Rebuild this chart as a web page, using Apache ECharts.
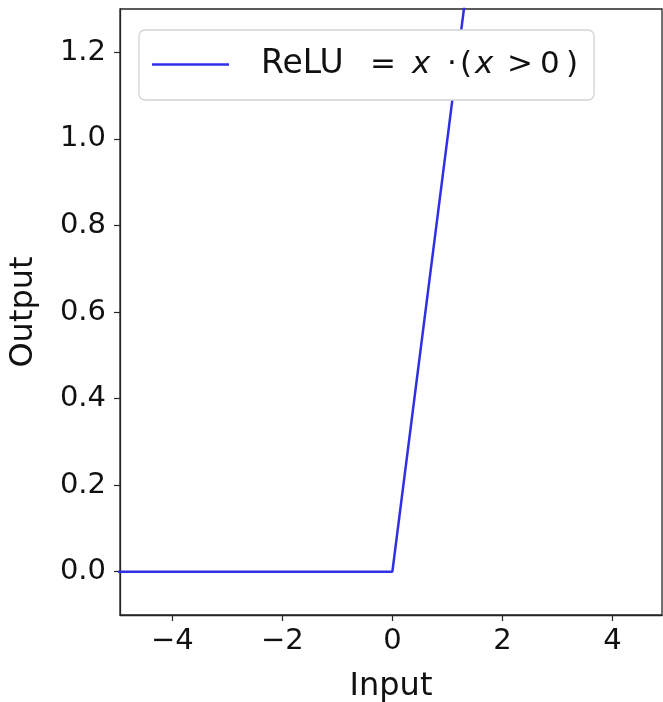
<!DOCTYPE html>
<html>
<head>
<meta charset="utf-8">
<script src="https://cdn.jsdelivr.net/npm/echarts@6/dist/echarts.min.js"></script>
<style>
  html, body { margin: 0; padding: 0; background: #fff; }
  #chart { width: 663px; height: 702px; }
</style>
</head>
<body>
<div id="chart"></div>
<script>
// ReLU sampled at the kink and ends
const inputX = [-5, 0, 5];
const outputY = [0, 0, 5];
const xTicks = [-4, -2, 0, 2, 4];
const yTicks = [0, 0.2, 0.4, 0.6, 0.8, 1.0, 1.2];

const lineColor = '#2f2fe6';
const font = 'DejaVu Sans';
const ink = '#111';

// legend glyph runs, mathtext-like spacing
const legendRich = {
    r: { width: 109, fontSize: 33 }, eq: { width: 42 }, x1: { width: 35, fontStyle: 'italic' },
    dot: { width: 13 }, lp: { width: 15 }, x2: { width: 32, fontStyle: 'italic' },
    gt: { width: 33 }, zero: { width: 26 }, rp: { width: 10 }
};
Object.values(legendRich).forEach(s => Object.assign(s, Object.assign({ fontFamily: font, fontSize: 31, color: ink }, s)));

const chart = echarts.init(document.getElementById('chart'));

const option = {
    animation: false,
    grid: {
        left: 120, right: 1, top: 9, bottom: 87,
        outerBoundsMode: 'none',
        containLabel: false,
        show: true,
        borderColor: '#262626',
        borderWidth: 1.3,
        backgroundColor: '#fff'
    },
    legend: {
        left: 139, top: 30,
        data: ['ReLU'],
        icon: 'rect',
        itemWidth: 77,
        itemHeight: 2.5,
        padding: [18, 16, 19, 13],
        backgroundColor: '#fff',
        borderColor: '#d4d4d4',
        borderWidth: 1.3,
        borderRadius: 6,
        formatter: () => '{r|ReLU}{eq|=}{x1|x}{dot|·}{lp|(}{x2|x}{gt|>}{zero|0}{rp|)}',
        textStyle: {
            padding: [0, 0, 0, 27],
            rich: legendRich
        }
    },
    xAxis: {
        type: 'value',
        min: -4.95,
        max: 4.9,
        name: 'Input',
        nameLocation: 'middle',
        nameGap: 56,
        nameTextStyle: { fontFamily: font, fontSize: 32, color: ink },
        axisLine: { show: true, onZero: false, lineStyle: { color: '#262626', width: 1.3 } },
        axisTick: { show: true, length: 6, customValues: xTicks, lineStyle: { color: '#262626', width: 1.2 } },
        axisLabel: {
            customValues: xTicks,
            margin: 12,
            fontFamily: font, fontSize: 29, color: ink,
            formatter: v => v < 0 ? '\u2212' + Math.abs(v) : String(v)
        },
        splitLine: { show: false }
    },
    yAxis: {
        type: 'value',
        min: -0.1,
        max: 1.3,
        name: 'Output',
        nameLocation: 'middle',
        nameGap: 80,
        nameRotate: 90,
        nameTextStyle: { fontFamily: font, fontSize: 32, color: ink },
        axisLine: { show: true, onZero: false, lineStyle: { color: '#262626', width: 1.3 } },
        axisTick: { show: true, length: 6, customValues: yTicks, lineStyle: { color: '#262626', width: 1.2 } },
        axisLabel: {
            customValues: yTicks,
            margin: 14,
            fontFamily: font, fontSize: 29, color: ink,
            formatter: v => v.toFixed(1)
        },
        splitLine: { show: false }
    },
    series: [{
        name: 'ReLU',
        type: 'line',
        data: inputX.map((x, i) => [x, outputY[i]]),
        showSymbol: false,
        clip: true,
        lineStyle: { color: lineColor, width: 2.5 },
        itemStyle: { color: lineColor }
    }]
};

chart.setOption(option);
</script>
</body>
</html>
